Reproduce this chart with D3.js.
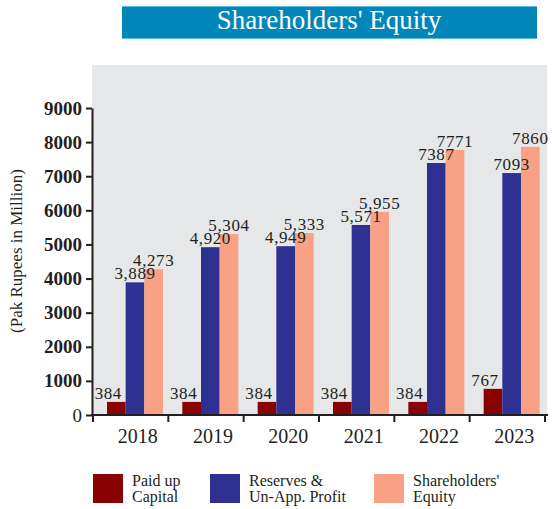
<!DOCTYPE html>
<html>
<head>
<meta charset="utf-8">
<script src="https://cdn.jsdelivr.net/npm/d3@7"></script>
<style>
  body { margin: 0; background: #fff; }
  text { font-family: "Liberation Serif", "Times New Roman", serif; fill: #231f20; }
</style>
</head>
<body>
<script>
(function() {

    // data
    var years = ['2018', '2019', '2020', '2021', '2022', '2023'];
    var paidUp = [384, 384, 384, 384, 384, 767];
    var reserves = [3889, 4920, 4949, 5571, 7387, 7093];
    var equity = [4273, 5304, 5333, 5955, 7771, 7860];
    var plainYears = ['2022', '2023']; // these labels are printed without a comma
    var yTicks = [0, 1000, 2000, 3000, 4000, 5000, 6000, 7000, 8000, 9000];

    var seriesNames = ['Paid up Capital', 'Reserves & Un-App. Profit', "Shareholders' Equity"];
    var legendLines = [['Paid up', 'Capital'], ['Reserves &', 'Un-App. Profit'], ["Shareholders'", 'Equity']];
    var colours = ['#8a0104', '#2e3192', '#f8a184'];
    var seriesValues = [paidUp, reserves, equity];

    var svg = d3.select('body').append('svg')
        .attr('width', 552)
        .attr('height', 509);

    // title banner
    svg.append('rect')
        .attr('x', 122).attr('y', 6)
        .attr('width', 415).attr('height', 33)
        .attr('fill', '#0086b9');
    svg.append('line').attr('x1', 122).attr('x2', 537).attr('y1', 6.5).attr('y2', 6.5)
        .attr('stroke', '#5bbbe3');
    svg.append('line').attr('x1', 122).attr('x2', 537).attr('y1', 38.5).attr('y2', 38.5)
        .attr('stroke', '#5bbbe3');
    svg.append('text')
        .attr('x', 329).attr('y', 29)
        .attr('text-anchor', 'middle')
        .style('fill', '#fff')
        .style('font-size', '27px')
        .text("Shareholders' Equity");

    // plot background
    svg.append('rect')
        .attr('x', 92).attr('y', 65)
        .attr('width', 455).attr('height', 350)
        .attr('fill', '#e6e7e9');

    var x = d3.scaleBand().domain(years).range([93, 545]);
    var x1 = d3.scaleBand().domain(seriesNames).range([14, 70]);
    var y = d3.scaleLinear().domain([0, 9000]).range([415, 108]);

    var rows = years.map(function(yr, i) {
        return seriesNames.map(function(s, j) {
            return { year: yr, series: s, idx: j, value: seriesValues[j][i] };
        });
    });

    var groups = svg.selectAll('g.year')
        .data(rows)
        .enter().append('g')
        .attr('class', 'year')
        .attr('transform', function(d, i) { return 'translate(' + x(years[i]) + ',0)'; });

    groups.selectAll('rect')
        .data(function(d) { return d; })
        .enter().append('rect')
        .attr('x', function(d) { return x1(d.series); })
        .attr('y', function(d) { return y(d.value); })
        .attr('width', x1.bandwidth())
        .attr('height', function(d) { return y(0) - y(d.value); })
        .style('fill', function(d) { return colours[d.idx]; });

    var commaFmt = d3.format(',');
    groups.selectAll('text.val')
        .data(function(d) { return d; })
        .enter().append('text')
        .attr('class', 'val')
        .attr('x', function(d) { return x1(d.series) + x1.bandwidth() / 2 + (d.idx == 0 ? -8 : 0); })
        .attr('y', function(d) { return y(d.value) - 3; })
        .attr('text-anchor', 'middle')
        .style('font-size', '17px')
        .style('letter-spacing', '0.6px')
        .text(function(d) {
            return plainYears.indexOf(d.year) >= 0 ? String(d.value) : commaFmt(d.value);
        });

    // y axis
    var yAxis = svg.append('g')
        .attr('transform', 'translate(92,0)')
        .call(d3.axisLeft(y).tickValues(yTicks).tickFormat(d3.format('d')).tickSize(6).tickSizeOuter(0));
    yAxis.select('.domain').attr('stroke', '#231f20').attr('stroke-width', 2);
    yAxis.selectAll('.tick line').attr('stroke', '#231f20').attr('stroke-width', 2);
    yAxis.selectAll('.tick text')
        .attr('x', -10)
        .style('font-family', '"Liberation Serif", serif')
        .style('font-size', '19px')
        .style('font-weight', function(d) { return d == 0 ? 'normal' : 'bold'; })
        .style('fill', '#231f20');

    // x axis
    var xAxis = svg.append('g')
        .attr('transform', 'translate(0,415)')
        .call(d3.axisBottom(x).tickSize(0).tickSizeOuter(0));
    xAxis.select('.domain').remove();
    xAxis.selectAll('.tick text')
        .attr('dx', 7)
        .attr('y', 14)
        .style('font-family', '"Liberation Serif", serif')
        .style('font-size', '20px')
        .style('fill', '#231f20');
    svg.append('line')
        .attr('x1', 91).attr('x2', 548).attr('y1', 415).attr('y2', 415)
        .attr('stroke', '#231f20').attr('stroke-width', 2);
    var bounds = years.map(function(d) { return x(d); }).concat([x.range()[1]]);
    svg.selectAll('line.bound')
        .data(bounds)
        .enter().append('line')
        .attr('class', 'bound')
        .attr('x1', function(d) { return d; }).attr('x2', function(d) { return d; })
        .attr('y1', 415).attr('y2', 422)
        .attr('stroke', '#231f20').attr('stroke-width', 2);

    // y axis title
    svg.append('text')
        .attr('transform', 'translate(22,251) rotate(-90)')
        .attr('text-anchor', 'middle')
        .style('font-size', '17px')
        .text('(Pak Rupees in Million)');

    // legend
    var legendX = [93, 210, 374];
    var legend = svg.selectAll('g.legend')
        .data(legendLines)
        .enter().append('g')
        .attr('class', 'legend')
        .attr('transform', function(d, i) { return 'translate(' + legendX[i] + ',474)'; });
    legend.append('rect')
        .attr('width', 30).attr('height', 29)
        .style('fill', function(d, i) { return colours[i]; });
    legend.append('text')
        .attr('x', 39)
        .style('font-size', '16px')
        .selectAll('tspan')
        .data(function(d) { return d; })
        .enter().append('tspan')
        .attr('x', 39)
        .attr('y', function(d, i) { return 12 + i * 15.5; })
        .text(function(d) { return d; });

})();
</script>
</body>
</html>
